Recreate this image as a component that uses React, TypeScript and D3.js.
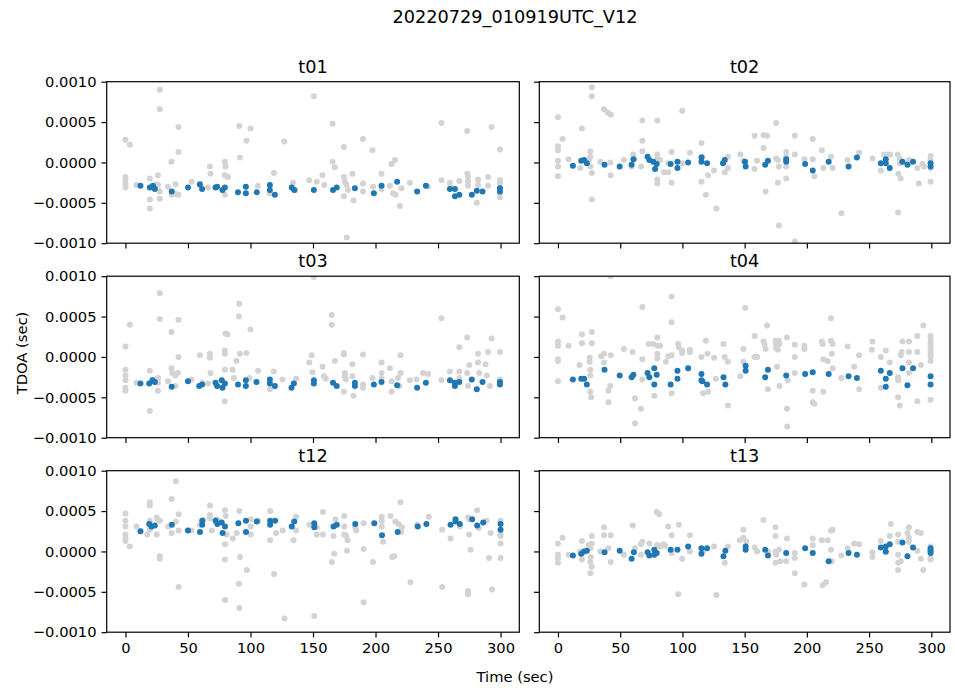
import { useRef, useEffect } from "react";
import * as d3 from "d3";

type Pt = [number, number]; // [time (sec), TDOA in units of 1e-4 sec]

const UNIT = 1e-4;
const figTitle = "20220729_010919UTC_V12";
const panelNames = ["t01", "t02", "t03", "t04", "t12", "t13"];
const xTicks = [0, 50, 100, 150, 200, 250, 300];
const yTicks = [-0.001, -0.0005, 0, 0.0005, 0.001];

const t01Grey: Pt[] = [
  [0, 2.8], [3.5, 2.2], [0, -1.8], [0, -2.2], [0, -2.7], [0, -3.1], [8.8, -2.8], [19.5, -2.0], [19.5, -4.6],
  [19.5, -5.7], [26, -1.6], [27.5, 9.0], [27.5, 6.6], [26, -2.8], [27.5, -3.6], [27.5, -4.5], [25, -2.7],
  [36.8, 0.1], [40, -2.7], [40, -3.9], [42.4, 4.4], [42.4, 1.3], [42.4, -4.0], [34, -3.0], [37, -4.0],
  [52.8, -2.4], [59.5, -2.8], [67.5, -0.5], [68, -1.4], [66, -3.1], [79.5, 0.1], [80, -0.5], [79.5, -1.6],
  [82, -1.8], [79.5, -4.0], [91, 4.5], [91.5, 0.6], [96.8, 2.7], [100, 4.2], [106, -2.9], [118.7, -1.3],
  [115.5, -3.8], [127, 2.6], [134, -2.5], [136, -3.4], [147, -2.2], [150.7, 8.2], [153, -2.4], [157.6, -1.6],
  [159, -2.8], [165.6, 4.8], [165.6, 0.1], [167.5, -0.6], [174.7, 1.9], [174.7, -1.8], [175.5, -2.4],
  [176.8, -2.8], [174.7, -4.2], [178, -3.4], [181.5, -1.4], [182.4, -4.7], [177, -9.3], [190, 2.9], [190, -2.6],
  [190, -3.6], [197.6, 1.5], [198, -3.0], [204.8, -1.4], [204.8, -3.3], [211.5, -2.9], [212.8, -0.2],
  [215.5, 0.3], [214, -3.8], [216, -4.0], [219.5, -5.4], [220.8, -3.2], [227.5, -2.5], [242, -3.0],
  [252.8, 4.9], [252.8, -2.2], [259.5, -2.5], [260, -3.0], [267, -2.3], [273.5, -1.4], [274, -1.8],
  [274, -2.4], [274, -2.9], [273.3, 3.9], [281, -5.0], [282, -2.1], [282, -2.8], [290, -1.8], [292.8, 4.4],
  [290, -2.9], [299.5, 1.6], [299.5, -2.2], [299.5, -2.6], [299.5, -3.8], [299.5, -4.3],
];
const t01Blue: Pt[] = [
  [12, -2.9], [19.5, -3.1], [22, -2.9], [23.5, -3.3], [37, -3.6], [50, -3.1], [59.5, -2.7], [61.3, -3.3],
  [72, -3.1], [73.3, -3.0], [77.6, -3.4], [79.5, -3.1], [90, -3.7], [96.3, -3.0], [96.3, -3.8], [105, -3.7],
  [115.5, -2.8], [115.5, -3.4], [119.5, -4.0], [133, -3.1], [135, -3.4], [150.7, -3.4], [166, -3.4],
  [169, -3.1], [183.5, -3.2], [198.7, -3.8], [204.8, -2.9], [217.3, -2.4], [233.3, -3.6], [240.3, -2.9],
  [259.5, -3.3], [263.5, -3.3], [263.5, -4.2], [267, -4.0], [277, -4.0], [281, -3.5], [285.6, -3.6],
  [299.5, -3.2], [299.5, -3.6],
];

const t02Grey: Pt[] = [
  [0, 5.6], [0, 2.0], [0, 1.5], [0, 0.2], [0, -0.5], [0, -1.7], [3.7, 2.9], [8.5, 0.4], [19.2, 4.2],
  [17.9, -0.7], [26, 1.4], [26, 0.7], [25, 0.3], [26, -0.5], [27.2, -1.3], [27.2, 9.3], [27.2, 8.2],
  [27.2, -4.6], [37, 6.6], [40, 6.2], [42.4, 5.9], [34, 0.1], [42, 0], [42.4, -1.6], [53, 0.3], [60.5, 1.0],
  [61.5, 0.4], [59, -0.5], [67.8, 5.2], [67.8, 2.7], [67.8, 1.4], [66.7, -0.5], [79.8, 5.2], [79.8, 1.0],
  [79.8, 0.4], [79.8, -2.1], [79.8, -2.6], [82, 0.3], [85, -1.2], [88.6, -1.2], [91.3, 1.3], [91.3, -2.5],
  [88.6, -0.1], [99.8, 6.4], [99.8, -0.1], [106, 1.2], [115.3, 2.4], [115.3, -2.4], [116, 0.7], [120.6, -1.6],
  [118.8, -4.0], [125.4, -1.0], [127.3, -5.7], [134, -1.2], [136.6, 0.7], [136.6, -0.7], [146.5, 1.0],
  [149, 0.2], [158, 3.3], [158, -0.8], [160, 0.2], [165.2, 1.8], [165.2, 3.4], [168, 3.3], [166.8, -3.6],
  [175.3, 4.9], [175.3, 0.5], [176.7, 0.3], [177.5, -0.5], [176.7, -2.5], [177.5, -7.8], [183.4, 1.3],
  [183.4, 0.7], [183.4, -0.5], [183.4, -2.0], [190.3, 3.3], [190.3, 1.0], [190.3, -9.8], [198, 0.4],
  [204.7, 2.9], [204.7, 0.4], [206, -1.7], [212, 1.5], [213.2, -0.7], [219.4, 0.7], [220.7, -0.7],
  [227.7, -6.3], [232.7, 0.3], [242, 1.2], [252.7, 0.5], [259.4, -1.0], [262, 1.0], [264.8, 1.0], [267, 1.0],
  [273, 1.0], [274.6, 0.5], [274.6, -0.1], [273.5, -1.4], [275.4, -2.0], [273.3, -6.2], [282, 0.3],
  [282, -0.1], [288.8, -0.7], [290, -2.6], [292.7, -0.2], [294, -0.5], [299.4, 0.8], [299.4, 0.3],
  [299.4, -0.7], [299.4, -2.4],
];
const t02Blue: Pt[] = [
  [12, -0.4], [18.7, 0.2], [21, 0.3], [23.2, -0.1], [37.4, -0.3], [49.6, -0.5], [59.2, -0.3], [60.6, 0.4],
  [72, 0.7], [73.4, 0.3], [76.6, 0.1], [78, -0.8], [79.3, -0.2], [90.5, -0.2], [96, 0.1], [96, -0.7],
  [104.6, 0], [115.3, 0.6], [115.3, 0.1], [119.8, -0.1], [132.6, -0.1], [134, 0.3], [150.3, 0.1],
  [150.8, -0.5], [166.5, -0.3], [168.7, 0.2], [183.4, 0.4], [183.4, 0.1], [198.6, -0.2], [204.7, -1.0],
  [217.5, 0.1], [233.5, -0.5], [240.2, 0.6], [259.4, -0.1], [263.4, 0.4], [263.4, -0.1], [266.6, -0.7],
  [276.8, 0.1], [280.8, -0.3], [285.3, 0.1], [299.4, -0.1], [299.4, -0.5],
];

const t03Grey: Pt[] = [
  [0, 1.3], [0, -1.6], [0, -2.3], [0, -2.9], [0, -3.8], [0, -4.2], [3.5, 4.0], [8.8, -3.2], [19.5, -1.7],
  [19.5, -6.7], [22, -2.8], [27.5, 7.9], [27.5, 4.7], [26, -2.6], [26, -3.2], [26, -4.2], [36.8, 3.1],
  [36.8, -1.4], [37.5, -2.0], [40, -2.3], [42, -2.0], [42.4, 4.6], [42.4, 0], [34, -3.0], [40, -3.6],
  [52.8, -2.8], [59.5, 0.2], [61.6, -3.2], [67.5, 0.4], [67.5, -0.1], [68, -2.0], [66, -3.3], [80, 2.9],
  [79.5, 0.8], [79.5, 0.4], [79.5, -1.6], [79.5, -5.5], [81.6, 2.8], [85.6, -1.6], [88.8, -0.5], [86.7, -2.6],
  [91, 6.6], [90.7, 5.0], [91.5, 0.4], [96.8, 0.5], [100, 3.4], [99, -2.6], [106, -1.7], [118.7, -1.8],
  [115.5, -4.0], [125.6, -2.8], [136.5, -2.7], [147, -0.7], [149, 0.2], [150.7, 9.9], [149.6, -1.9],
  [157.6, -1.2], [158.7, -2.4], [160.3, -2.7], [165, 5.2], [165, 4.0], [167.5, -0.5], [174.7, 0.5],
  [174.7, 0.3], [175.5, -2.0], [175.5, -2.4], [176.3, -2.8], [174.7, -4.3], [181.5, -0.9], [181.5, -2.4],
  [182.4, -4.8], [190, 0.3], [190, -3.4], [190, -3.8], [197.6, -2.6], [204.8, -0.7], [204.8, -2.0],
  [204.8, -2.6], [211.5, -1.4], [212.8, -3.0], [212.8, -4.3], [220, 0.2], [220, -2.0], [218, -2.6],
  [219, -3.6], [227.5, -2.9], [232.8, -2.8], [238, -2.0], [242, -2.1], [252.8, 4.8], [252.8, -2.9],
  [259.5, -1.8], [267, 1.2], [267, -1.8], [267, -2.6], [273.3, 2.4], [273.3, -2.0], [274, -3.6], [275, -1.0],
  [282, 0.4], [282, -0.7], [283, -2.0], [288, -0.9], [289, -2.3], [290, 0.6], [292.8, 2.3], [291.5, -3.6],
  [299.5, 0.6], [299.5, -2.8], [299.5, -3.2],
];
const t03Blue: Pt[] = [
  [12, -3.3], [19, -3.3], [21.6, -2.9], [23.5, -3.1], [37, -3.7], [50, -3.0], [59, -3.6], [61.3, -3.4],
  [72, -3.2], [73.3, -3.6], [77, -2.9], [77.6, -3.8], [79.5, -3.3], [90, -3.4], [96.3, -2.9], [96.3, -3.6],
  [104.8, -3.1], [115.5, -2.8], [115.5, -3.3], [119.5, -3.6], [132.8, -3.8], [134.7, -3.3], [150.7, -2.9],
  [150.7, -3.3], [166, -3.2], [169, -3.6], [183.5, -3.2], [183.5, -3.6], [198.7, -3.4], [204.8, -3.1],
  [217.3, -3.5], [233.3, -3.8], [240.3, -3.2], [259.5, -2.9], [263.5, -3.2], [263.5, -3.6], [267, -3.1],
  [277, -2.8], [281, -4.0], [285.6, -3.1], [299.5, -3.1], [299.5, -3.4],
];

const t04Grey: Pt[] = [
  [0, 5.9], [0, 1.9], [0, 1.4], [0, -0.3], [0, -0.5], [0, -3.0], [3.7, 4.9], [8.5, 1.4], [17.3, -1.0],
  [19.2, 2.8], [19.2, 1.7], [25.5, -0.1], [25.5, -0.6], [26, -1.6], [26, -2.3], [26, -4.3], [26.7, -5.0],
  [27.2, 3.1], [27.2, 1.7], [34.7, 0.1], [37, 0.4], [37, -0.7], [40.5, -4.2], [42, -3.6], [42.4, 10.0],
  [42.4, 0.2], [40.5, -5.6], [53, 1.0], [59.9, 0.6], [61.9, -5.1], [61.9, -8.2], [66.7, -6.4], [67.8, 6.2],
  [67.8, -0.3], [67.8, -2.8], [73, 1.6], [76.6, 1.6], [79.8, 2.4], [79.8, 1.4], [82, 1.4], [79.8, 0.4],
  [79.8, -0.2], [77.4, -4.8], [86.7, -0.6], [88.6, 0.1], [91.3, 0.2], [91.3, 7.5], [91.3, 4.3], [91.3, -4.5],
  [96.6, 1.6], [97.1, 1.2], [99.8, 0.8], [99.8, 0.5], [106, 0.9], [106, 0.6], [115.3, 0], [118.8, 2.0],
  [120.1, 0.4], [116.6, -4.5], [120.6, -4.3], [125.4, -0.1], [126.8, -2.7], [133, 1.6], [134, 0],
  [136.6, -0.6], [136.6, -6.0], [146.5, -2.4], [149, 1.0], [149, -0.6], [150.5, 6.1], [158, 2.6], [158, 0],
  [160, 0], [165.2, 1.9], [166, 1.5], [166.8, 1.0], [168, 3.9], [168.7, -4.0], [174.8, 2.0], [175.3, 1.5],
  [175.3, 1.1], [176.7, 0.9], [177.5, 2.0], [178, 1.6], [176, -1.2], [178, -3.6], [184, 2.4], [184.7, -2.9],
  [184, -6.4], [184.2, -8.6], [190.3, 1.5], [190.3, 0], [190.3, -2.0], [198, 1.4], [198, 1.0], [204.7, -4.2],
  [204.7, -5.6], [206, -5.8], [212, 1.9], [212.7, 1.6], [213.2, -0.3], [213.2, -4.3], [216.7, -0.5],
  [219.4, 4.8], [219.4, 2.0], [220.7, 1.6], [220, 0.4], [220.7, -1.4], [227.7, -2.6], [232.7, 1.3],
  [238, -1.2], [242, 0.2], [242, -4.0], [252.7, 1.9], [252.2, 0.9], [259.4, 0], [259.4, -3.8], [263.4, 0.8],
  [266.6, -0.7], [273.3, -2.5], [273.3, -2.9], [273.3, -5.0], [274.6, -6.0], [275.4, 0.2], [276.2, 0.6],
  [276.8, 1.9], [282, 1.9], [282, 0.6], [282, -0.7], [282, -2.0], [288.8, 0.6], [288.8, 2.6], [288.8, -5.5],
  [291.6, -1.0], [293.5, 3.9], [299.4, 2.6], [299.4, 2.1], [299.4, 1.7], [299.4, 1.3], [299.4, 0.9],
  [299.4, 0.5], [299.4, 0.1], [299.4, -0.5], [299.4, -5.3],
];
const t04Blue: Pt[] = [
  [12, -2.8], [18.7, -2.7], [21, -2.7], [23.2, -3.4], [37.4, -1.6], [49.6, -2.3], [59.2, -2.5], [60.6, -2.2],
  [72, -2.0], [73.4, -2.5], [77.4, -1.4], [77.4, -3.4], [79.3, -2.2], [90.5, -3.4], [96, -1.7], [96, -2.7],
  [104.6, -1.4], [115.3, -2.1], [115.3, -2.9], [116, -3.0], [119.8, -3.4], [133, -2.5], [134.5, -3.4],
  [150.8, -1.1], [150.8, -1.7], [166.5, -2.5], [168.7, -1.6], [183.4, -2.3], [198.6, -2.1], [204.7, -1.9],
  [217.5, -2.1], [233.5, -2.4], [240.2, -2.6], [259.4, -1.7], [263.4, -2.7], [263.4, -3.7], [266.6, -2.0],
  [276.8, -1.4], [280.8, -3.5], [285.3, -1.4], [299.4, -2.4], [299.4, -3.4],
];

const t12Grey: Pt[] = [
  [0, 4.7], [0, 3.8], [0, 3.1], [0, 2.1], [0, 1.6], [0, 1.3], [3.5, 0.6], [8.8, 3.1], [17.4, 2.1],
  [19.5, 6.1], [19.5, 5.7], [19.5, 3.8], [19.5, 2.7], [25, 4.2], [26.2, 3.9], [27.5, 3.8], [25, 2.1],
  [27.5, -0.6], [27.5, -0.9], [34.2, 3.1], [36.9, 6.5], [36.9, 2.3], [40.3, 8.7], [42.5, 4.6], [42.5, 2.6],
  [42.5, -4.4], [40.3, 3.7], [52.9, 2.6], [59.6, 3.3], [62.2, 3.9], [67.6, 5.7], [67.6, 4.5], [67.6, 4.1],
  [69, 2.6], [73, 4.0], [74.3, 3.8], [79.6, 5.1], [80.2, 4.4], [80.9, 2.1], [79.6, 0.9], [79.6, -1.0],
  [79.6, -6.0], [85.8, 1.6], [89, 2.3], [91.1, 5.0], [91.6, -0.7], [90.8, -4.0], [91.1, -7.0], [97, -2.3],
  [100.2, 2.1], [100.2, 3.1], [100.2, 4.0], [106.3, 3.8], [115.7, 5.0], [115.7, 1.4], [118.9, -2.8],
  [120.5, 2.3], [125.8, 2.6], [127.2, -8.3], [134.4, 1.4], [136.5, 4.3], [136.5, 2.6], [147.2, 3.3],
  [151, -8.0], [153, 3.0], [153, 2.1], [157.9, 4.9], [157.9, 2.1], [165.1, -1.3], [166.4, 1.9], [167, -0.3],
  [168, 4.0], [175, 4.4], [175, 3.1], [175, 2.1], [176.6, 1.9], [177.7, 1.4], [177.2, 0.1], [183.8, 3.0],
  [184.6, 2.6], [190.5, 3.5], [190.5, 0.3], [190.5, -6.3], [198, -1.3], [205, 4.3], [205, 3.8], [205, 3.1],
  [206, 1.2], [212, 4.4], [213.3, -0.7], [215, -0.6], [215.8, 3.7], [218.5, 3.4], [220, 6.1], [221.2, 3.0],
  [220.5, 2.4], [228, -3.8], [233.2, 3.3], [242.6, 4.3], [253.3, -4.4], [253.3, 2.7], [260, 1.6],
  [267.4, 3.1], [274, 4.2], [274.8, 4.0], [274.8, 2.1], [274, -4.9], [274, -5.3], [276, 0.2], [281.3, 5.1],
  [282.6, 2.9], [288.8, 3.8], [290.7, -0.8], [292, 2.3], [293.3, -4.7], [300, 3.8], [300, 2.1], [300, 1.9],
  [300, 1.0], [300, -0.8],
];
const t12Blue: Pt[] = [
  [12, 2.5], [19, 3.4], [20.8, 3.1], [23.5, 3.2], [37.1, 3.3], [50, 2.6], [59.6, 2.4], [61.4, 3.8],
  [61.4, 3.3], [72.1, 3.8], [73.5, 3.4], [77, 3.6], [77.7, 2.3], [79.6, 3.1], [90.3, 3.5], [96.4, 3.8],
  [96.4, 2.4], [105, 3.7], [115.7, 3.8], [115.7, 3.3], [119.7, 3.8], [133, 3.1], [135, 3.7], [151, 3.5],
  [151, 3.0], [166.4, 3.1], [169, 3.3], [183.8, 3.4], [199, 3.5], [205.2, 2.0], [217.7, 2.4], [233.8, 3.1],
  [240.7, 3.4], [260, 3.3], [264, 4.0], [264, 3.7], [267.4, 3.4], [277.3, 4.0], [281.3, 3.2], [286.1, 3.6],
  [300, 3.4], [300, 2.7],
];

const t13Grey: Pt[] = [
  [0, 1.0], [0, -0.4], [0, -0.8], [0, -1.4], [3.7, 1.7], [8.5, -0.4], [19.2, 1.3], [17.9, 0], [19.2, -1.0],
  [24.6, 0.8], [26, 0.4], [26.4, -0.7], [27.2, 1.9], [27.2, 1.0], [26, -1.3], [27.2, -1.9], [26, -2.7],
  [37, 3.0], [37, 2.0], [34, 0], [42.4, 2.0], [40.5, 0.4], [42.4, -1.3], [53, -0.4], [60, 3.2], [61.9, 0.4],
  [66.7, 0.9], [67.8, 1.2], [66.7, -0.4], [73.4, 1.0], [79.3, 4.9], [81.4, 4.6], [79.8, 0.8], [82, 0.6],
  [85, 0.9], [86, 0.7], [88.6, 3.1], [91.3, 2.0], [91.3, -0.2], [97.1, 3.3], [96.6, -5.3], [99.8, -0.9],
  [106, 2.0], [106, 0], [116.6, 0.1], [125.4, 0.6], [127.3, -5.4], [134, -1.4], [136.6, 0.6], [146, 1.4],
  [149, 2.7], [149, 1.7], [151.3, 1.2], [158, 0.5], [160, 0], [165.2, 3.9], [168.7, 0], [174.8, 3.0],
  [174.8, 1.9], [174.8, 0], [175.3, -0.4], [174.8, -1.4], [177.5, 0.2], [178.6, -1.2], [184, 1.6],
  [183.4, -1.2], [190.3, -0.2], [190.3, -0.8], [190.3, -2.7], [198, -4.1], [204.7, 1.6], [204.7, 0.8],
  [212, 1.4], [212.7, -4.2], [215.4, -3.8], [216.7, 1.4], [219.4, 0.2], [219.4, 2.6], [220.7, 2.7],
  [220, -1.2], [227.7, -0.5], [232.7, 0.4], [238, 1.0], [242, 0.9], [252.7, -0.1], [252.7, -0.7],
  [259.4, 1.3], [263.4, -0.1], [267.4, 3.4], [266.6, 1.9], [273.3, 2.1], [273.3, 1.2], [273.3, -0.4],
  [273.3, -1.4], [273.3, -2.3], [275.4, -1.2], [282, 3.0], [280.8, 2.3], [282, 1.7], [282, 1.2], [288.8, 2.4],
  [291.6, 2.3], [288.8, 0.1], [291.6, -0.9], [293.5, -2.3], [299.4, 0.6], [299.4, 0.1], [299.4, -0.8],
  [299.4, -1.0],
];
const t13Blue: Pt[] = [
  [12, -0.5], [18.7, -0.3], [21, 0], [23.2, 0.1], [37.4, -0.1], [49.6, 0.1], [59.2, -0.9], [61, -0.1],
  [72, -0.1], [73.4, -0.5], [77.4, 0.2], [77.4, -0.4], [79.3, -0.2], [90.5, 0.2], [96, 0.2], [104.6, 0.6],
  [115.3, 0.4], [115.3, -0.3], [119.8, 0.4], [133, -0.6], [134.5, 0.1], [150.8, 0.6], [150.8, 0.2],
  [166.5, 0.2], [168.7, -0.5], [183.4, -0.2], [198.6, 0.4], [204.7, -0.2], [217.5, -1.2], [233.5, -0.2],
  [240.2, -0.4], [259.4, 0.5], [263.4, 0.6], [263.4, 0], [266.6, 0.9], [276.8, 1.1], [280.8, -0.6],
  [285.3, 0.5], [299.4, 0.4], [299.4, 0.1], [299.4, -0.2],
];

const greySeries = [t01Grey, t02Grey, t03Grey, t04Grey, t12Grey, t13Grey];
const blueSeries = [t01Blue, t02Blue, t03Blue, t04Blue, t12Blue, t13Blue];

const FONT = "DejaVu Sans, sans-serif";

export default function App() {
  const ref = useRef<SVGSVGElement>(null);

  useEffect(() => {
    if (!ref.current) return;
    const svg = d3.select(ref.current);
    svg.selectAll("*").remove();

    const width = 955;
    const colX = [
      [106.7, 519.3],
      [539.3, 950],
    ];
    const rowTop = [81.7, 276.2, 470.7];
    const rowH = 161.5;
    const tick = 5.2;

    const defs = svg.append("defs");

    panelNames.forEach((name, i) => {
      const col = i % 2;
      const row = Math.floor(i / 2);
      const [x0, x1] = colX[col];
      const y0 = rowTop[row];
      const y1 = y0 + rowH;

      const x = d3.scaleLinear([-15, 315], [x0, x1]);
      const y = d3.scaleLinear([-0.001, 0.001], [y1, y0]);

      defs
        .append("clipPath")
        .attr("id", `clip-${name}`)
        .append("rect")
        .attr("x", x0)
        .attr("y", y0)
        .attr("width", x1 - x0)
        .attr("height", y1 - y0);

      const g = svg.append("g");
      const pts = g.append("g").attr("clip-path", `url(#clip-${name})`);

      pts
        .append("g")
        .attr("fill", "#d3d3d3")
        .selectAll("circle")
        .data(greySeries[i])
        .join("circle")
        .attr("cx", (d) => x(d[0]))
        .attr("cy", (d) => y(d[1] * UNIT))
        .attr("r", 3);

      pts
        .append("g")
        .attr("fill", "#1f77b4")
        .selectAll("circle")
        .data(blueSeries[i])
        .join("circle")
        .attr("cx", (d) => x(d[0]))
        .attr("cy", (d) => y(d[1] * UNIT))
        .attr("r", 3);

      // y axis (labels only on the left column)
      const yAxis = d3
        .axisLeft(y)
        .tickValues(yTicks)
        .tickSize(tick)
        .tickPadding(5)
        .tickFormat(col === 0 ? (d3.format(".4f") as any) : () => "");
      g.append("g")
        .attr("transform", `translate(${x0},0)`)
        .call(yAxis)
        .call((a) => a.select(".domain").remove())
        .call((a) => a.selectAll(".tick line").attr("stroke-width", 1.2))
        .attr("font-family", FONT)
        .attr("font-size", 14.7);

      // x axis (labels only on the bottom row)
      const xAxis = d3
        .axisBottom(x)
        .tickValues(xTicks)
        .tickSize(tick)
        .tickPadding(5)
        .tickFormat(row === 2 ? (d3.format("d") as any) : () => "");
      g.append("g")
        .attr("transform", `translate(0,${y1})`)
        .call(xAxis)
        .call((a) => a.select(".domain").remove())
        .call((a) => a.selectAll(".tick line").attr("stroke-width", 1.2))
        .attr("font-family", FONT)
        .attr("font-size", 14.7);

      g.append("rect")
        .attr("x", x0)
        .attr("y", y0)
        .attr("width", x1 - x0)
        .attr("height", y1 - y0)
        .attr("fill", "none")
        .attr("stroke", "#000")
        .attr("stroke-width", 1.2);

      g.append("text")
        .attr("x", (x0 + x1) / 2)
        .attr("y", y0 - 8.8)
        .attr("text-anchor", "middle")
        .attr("font-family", FONT)
        .attr("font-size", 17.7)
        .text(name);
    });

    svg
      .append("text")
      .attr("x", 515)
      .attr("y", 17)
      .attr("dy", "0.35em")
      .attr("text-anchor", "middle")
      .attr("font-family", FONT)
      .attr("font-size", 17.7)
      .text(figTitle);

    svg
      .append("text")
      .attr("x", 515)
      .attr("y", 677)
      .attr("dy", "0.35em")
      .attr("text-anchor", "middle")
      .attr("font-family", FONT)
      .attr("font-size", 14.7)
      .text("Time (sec)");

    svg
      .append("text")
      .attr("transform", `translate(21.7,353) rotate(-90)`)
      .attr("dy", "0.35em")
      .attr("text-anchor", "middle")
      .attr("font-family", FONT)
      .attr("font-size", 14.7)
      .text("TDOA (sec)");

    svg.attr("viewBox", [0, 0, width, 692]);
  }, []);

  return (
    <svg
      ref={ref}
      width={955}
      height={692}
      style={{ position: "absolute", left: 0, top: 0, background: "#fff" }}
    />
  );
}
